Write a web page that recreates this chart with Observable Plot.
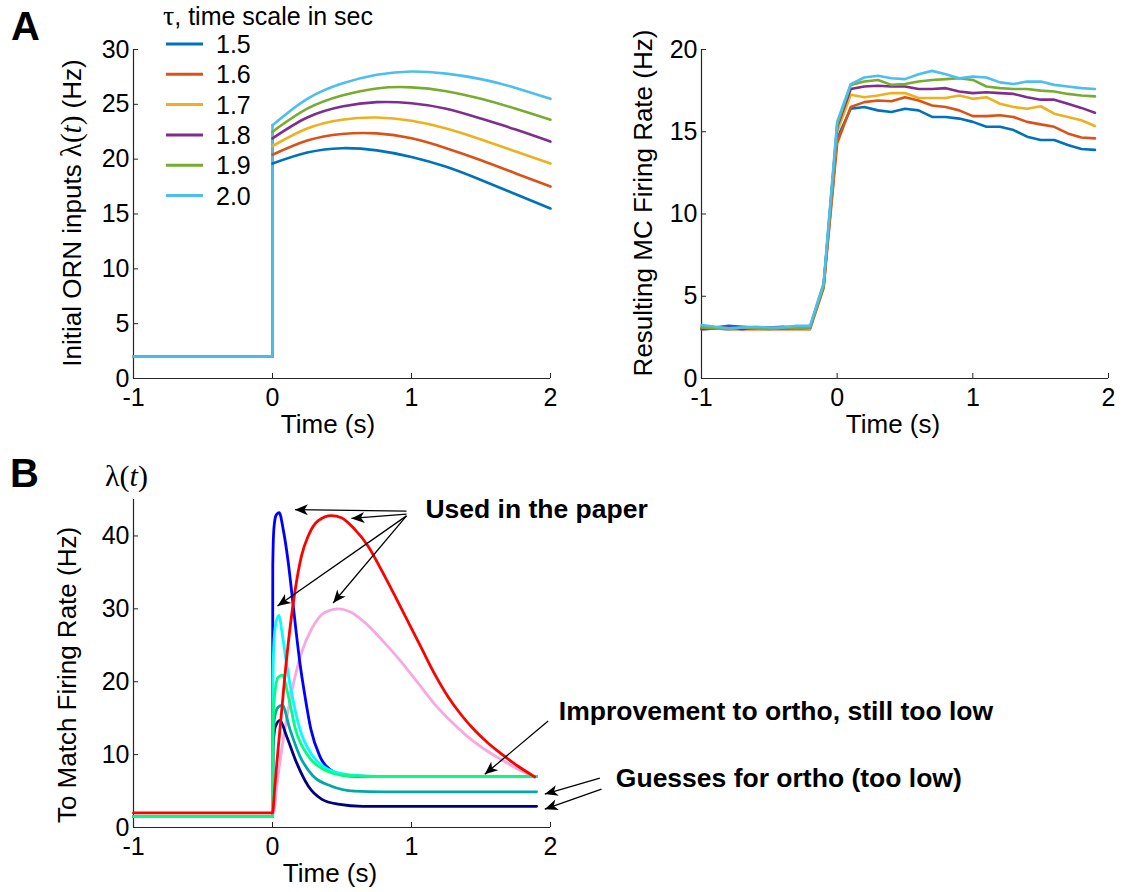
<!DOCTYPE html>
<html><head><meta charset="utf-8">
<script src="https://cdn.jsdelivr.net/npm/d3@7"></script>
<script src="https://cdn.jsdelivr.net/npm/@observablehq/plot@0.6"></script>
<style>
html,body{margin:0;padding:0;background:#fff;}
#fig{position:relative;width:1136px;height:892px;overflow:hidden;background:#fff;}
</style></head><body><div id="fig"></div>
<script>
// ---------------- DATA ----------------
// Panel A (left): initial ORN inputs for each time scale tau
const tauLabels = ["1.5", "1.6", "1.7", "1.8", "1.9", "2.0"];
const tauColors = ["#0072BD", "#D95319", "#EDB120", "#7E2F8E", "#77AC30", "#4DBEEE"];
const ornBaseline = 2;
const ornTimes = [0, 0.25, 0.5, 0.75, 1.0, 1.25, 1.5, 1.75, 2.0];
const orn_1_5 = [19.6, 20.6, 21.0, 20.8, 20.2, 19.3, 18.1, 16.8, 15.5];
const orn_1_6 = [20.4, 21.7, 22.3, 22.35, 21.9, 21.0, 19.9, 18.7, 17.5];
const orn_1_7 = [21.2, 22.8, 23.6, 23.8, 23.5, 22.8, 21.8, 20.7, 19.6];
const orn_1_8 = [21.9, 23.8, 24.8, 25.2, 25.1, 24.6, 23.7, 22.7, 21.6];
const orn_1_9 = [22.5, 24.6, 25.8, 26.45, 26.55, 26.2, 25.5, 24.6, 23.6];
const orn_2_0 = [23.1, 25.5, 26.9, 27.7, 28.0, 27.8, 27.3, 26.5, 25.5];

// Panel A (right): resulting MC firing rate
const mcTimes = [-1, -0.9, -0.8, -0.7, -0.6, -0.5, -0.4, -0.3, -0.2, -0.1, 0, 0.1, 0.2, 0.3, 0.4, 0.5, 0.6, 0.7, 0.8, 0.9, 1, 1.1, 1.2, 1.3, 1.4, 1.5, 1.6, 1.7, 1.8, 1.9];
const mc_1_5 = [3.1, 3.1, 3.2, 3.15, 3.1, 3.1, 3.1, 3.15, 3.1, 5.7, 14.6, 16.4, 16.5, 16.3, 16.2, 16.4, 16.3, 15.9, 15.9, 15.8, 15.6, 15.3, 15.3, 15.1, 14.7, 14.5, 14.5, 14.2, 13.95, 13.9];
const mc_1_6 = [3.0, 3.05, 3.0, 3.0, 3.0, 3.0, 3.0, 3.0, 3.0, 5.5, 14.3, 16.5, 16.8, 16.9, 16.85, 17.1, 16.9, 16.6, 16.5, 16.3, 15.95, 15.95, 16.0, 15.9, 15.6, 15.45, 15.3, 14.9, 14.65, 14.6];
const mc_1_7 = [3.05, 3.1, 3.05, 3.05, 3.1, 3.05, 3.1, 3.1, 3.05, 5.6, 15.0, 17.25, 17.1, 17.2, 17.35, 17.35, 17.05, 17.05, 17.05, 17.2, 17.0, 17.1, 16.7, 16.5, 16.4, 16.55, 16.1, 15.9, 15.7, 15.35];
const mc_1_8 = [3.0, 3.05, 3.1, 3.0, 3.1, 3.1, 3.15, 3.1, 3.1, 5.6, 15.3, 17.6, 17.75, 17.8, 17.75, 17.75, 17.6, 17.6, 17.65, 17.45, 17.35, 17.4, 17.35, 17.3, 17.1, 16.95, 16.95, 16.7, 16.45, 16.15];
const mc_1_9 = [3.1, 3.05, 3.0, 3.1, 3.05, 3.0, 3.1, 3.05, 3.1, 5.6, 15.4, 17.85, 18.05, 18.15, 17.85, 17.9, 18.05, 18.15, 18.2, 18.25, 18.15, 17.75, 17.65, 17.6, 17.6, 17.5, 17.45, 17.3, 17.2, 17.15];
const mc_2_0 = [3.25, 3.15, 3.05, 3.1, 3.15, 3.1, 3.1, 3.2, 3.2, 5.8, 15.6, 17.9, 18.3, 18.4, 18.25, 18.2, 18.5, 18.7, 18.5, 18.25, 18.35, 18.3, 18.0, 17.9, 18.05, 18.05, 17.85, 17.75, 17.65, 17.6];

// Panel B: lambda(t) needed to match firing rate (listed in drawing order)
const bNames  = ["paper slow 2", "ortho guess 1", "ortho guess 2", "paper fast 1", "paper fast 2", "ortho improved", "paper slow 1"];
const bColors = ["#F7A8E0", "#000080", "#00A8A8", "#0000FF", "#00FFFF", "#00FF80", "#FF0000"];
const bPinkT  = [-1, 0, 0.04, 0.089, 0.137, 0.209, 0.28, 0.376, 0.472, 0.568, 0.688, 0.808, 0.928, 1.048, 1.168, 1.288, 1.408, 1.528, 1.647, 1.767, 1.887];
const bPinkV  = [1.5, 1.5, 7.1, 13.5, 18.5, 24.0, 27.2, 29.5, 30.0, 29.5, 27.7, 25.3, 22.7, 19.8, 16.9, 14.5, 12.4, 10.7, 9.3, 8.0, 6.9];
const bNavyT  = [-1, 0, 0.004, 0.02, 0.053, 0.1, 0.173, 0.257, 0.353, 0.47, 0.65, 1.9];
const bNavyV  = [1.5, 1.5, 11, 13.8, 14.7, 12.6, 8.9, 5.7, 3.9, 3.2, 2.9, 2.9];
const bTealT  = [-1, 0, 0.004, 0.017, 0.04, 0.07, 0.125, 0.197, 0.29, 0.42, 0.59, 0.8, 1.9];
const bTealV  = [1.5, 1.5, 12.5, 15.3, 16.5, 16.8, 13.5, 9.8, 7.1, 5.7, 5.0, 4.9, 4.9];
const bBlueT  = [-1, 0, 0.002, 0.01, 0.025, 0.048, 0.077, 0.113, 0.141, 0.168, 0.197, 0.233, 0.276, 0.34, 0.41, 0.54, 0.7, 1.9];
const bBlueV  = [1.5, 1.5, 36, 41, 42.8, 43.2, 40.9, 36.4, 31.8, 27.2, 22.6, 18.1, 13.5, 9.8, 8.0, 7.1, 7.0, 7.0];
const bCyanT  = [-1, 0, 0.003, 0.012, 0.028, 0.048, 0.065, 0.1, 0.141, 0.197, 0.29, 0.40, 0.57, 0.75, 1.9];
const bCyanV  = [1.5, 1.5, 20, 26, 28.4, 29.1, 27.2, 22.6, 18.1, 13.5, 9.8, 8.0, 7.2, 7.0, 7.0];
const bGreenT = [-1, 0, 0.004, 0.017, 0.04, 0.07, 0.113, 0.165, 0.257, 0.365, 0.54, 0.75, 1.9];
const bGreenV = [1.5, 1.5, 15, 18.5, 20.6, 20.9, 18.1, 13.5, 9.8, 8.0, 7.1, 7.0, 7.0];
const bRedT   = [-1, 0, 0.017, 0.04, 0.065, 0.089, 0.125, 0.16, 0.209, 0.257, 0.329, 0.424, 0.496, 0.592, 0.688, 0.784, 0.88, 0.976, 1.072, 1.168, 1.264, 1.36, 1.456, 1.55, 1.647, 1.767, 1.887];
const bRedV   = [2, 2, 5.7, 10.7, 15.8, 20.8, 27.2, 32.2, 37.3, 40.0, 42.1, 42.8, 42.5, 40.9, 38.6, 35.3, 31.8, 28.2, 24.6, 21.0, 17.9, 15.4, 13.3, 11.6, 10.1, 8.4, 6.95];

// Panel B annotations (data coordinates)
const annoLabels = ["Used in the paper", "Improvement to ortho, still too low", "Guesses for ortho (too low)"];
const annoT = [1.10, 2.06, 2.47];
const annoV = [43.6, 15.97, 6.75];
const arrowFromT = [0.964, 0.964, 0.964, 0.964, 1.983, 2.355, 2.367];
const arrowFromV = [43.4, 43.0, 42.75, 42.75, 14.6, 6.78, 5.27];
const arrowToT   = [0.161, 0.568, 0.036, 0.436, 1.527, 1.959, 1.959];
const arrowToV   = [43.6, 42.4, 30.4, 30.8, 7.3, 4.58, 2.52];

// Tick values
const xTicks = [-1, 0, 1, 2];
const yTicksA1 = [0, 5, 10, 15, 20, 25, 30];
const yTicksA2 = [0, 5, 10, 15, 20];
const yTicksB = [0, 10, 20, 30, 40];

// ---------------- DRAW ----------------
const FONT = "'Liberation Sans', Arial, Helvetica, sans-serif";
const SERIF = "'Liberation Serif', 'Times New Roman', serif";
const AXIS = "#262626";
const fig = document.getElementById("fig");
const baseStyle = {fontFamily: FONT, fontSize: "25px", color: "black", background: "transparent", overflow: "visible"};

function place(svg, left, top) {
  svg.style.position = "absolute";
  svg.style.left = left + "px";
  svg.style.top = top + "px";
  fig.appendChild(svg);
}
function axes(yTicks) {
  return [
    Plot.ruleY([0], {stroke: AXIS, strokeWidth: 1.2}),
    Plot.ruleX([-1], {stroke: AXIS, strokeWidth: 1.2}),
    Plot.axisX({ticks: xTicks, tickSize: -5, tickPadding: 15, tickFormat: d => String(d), stroke: AXIS, label: null}),
    Plot.axisY({ticks: yTicks, tickSize: -5, tickPadding: 9, tickFormat: d => String(d), stroke: AXIS, label: null})
  ];
}

// Panel A left
const ornSeries = [orn_1_5, orn_1_6, orn_1_7, orn_1_8, orn_1_9, orn_2_0];
const ornStep = [], ornRows = [];
ornSeries.forEach((vals, i) => {
  const tau = tauLabels[i];
  ornStep.push({tau, t: -1, v: ornBaseline}, {tau, t: 0, v: ornBaseline}, {tau, t: 0, v: vals[0]});
  ornTimes.forEach((t, j) => ornRows.push({tau, t, v: vals[j]}));
});
const plotA1 = Plot.plot({
  width: 600, height: 440, marginLeft: 133, marginRight: 50, marginTop: 49, marginBottom: 62,
  x: {domain: [-1, 2]}, y: {domain: [0, 30]},
  color: {type: "ordinal", domain: tauLabels, range: tauColors},
  style: baseStyle,
  marks: [
    ...axes(yTicksA1),
    Plot.line(ornStep, {x: "t", y: "v", z: "tau", stroke: "tau", strokeWidth: 2.6}),
    Plot.line(ornRows, {x: "t", y: "v", z: "tau", stroke: "tau", strokeWidth: 2.6, curve: "natural"})
  ]
});
place(plotA1, 0, 0);

// Panel A right
const mcSeries = [mc_1_5, mc_1_6, mc_1_7, mc_1_8, mc_1_9, mc_2_0];
const mcRows = [];
mcSeries.forEach((vals, i) => mcTimes.forEach((t, j) => mcRows.push({tau: tauLabels[i], t, v: vals[j]})));
const plotA2 = Plot.plot({
  width: 576, height: 440, marginLeft: 141, marginRight: 28, marginTop: 49, marginBottom: 62,
  x: {domain: [-1, 2]}, y: {domain: [0, 20]},
  color: {type: "ordinal", domain: tauLabels, range: tauColors},
  style: baseStyle,
  marks: [
    ...axes(yTicksA2),
    Plot.line(mcRows, {x: "t", y: "v", z: "tau", stroke: "tau", strokeWidth: 2.6})
  ]
});
place(plotA2, 560, 0);

// Panel B
const bT = [bPinkT, bNavyT, bTealT, bBlueT, bCyanT, bGreenT, bRedT];
const bV = [bPinkV, bNavyV, bTealV, bBlueV, bCyanV, bGreenV, bRedV];
const bRows = [];
bNames.forEach((name, i) => bT[i].forEach((t, j) => bRows.push({name, t, v: bV[i][j]})));
const bOpts = {
  width: 1136, height: 442, marginLeft: 133, marginRight: 586, marginTop: 49, marginBottom: 65,
  x: {domain: [-1, 2]}, y: {domain: [0, 45]},
  color: {type: "ordinal", domain: bNames, range: bColors},
  style: baseStyle
};
const probe = Plot.plot({...bOpts, marks: [Plot.ruleY([0])]});
const sx = probe.scale("x"), sy = probe.scale("y");
const arrows = arrowFromT.map((x1, i) => {
  const x2 = arrowToT[i], y1 = arrowFromV[i], y2 = arrowToV[i];
  const dx = sx.apply(x2) - sx.apply(x1), dy = sy.apply(y2) - sy.apply(y1);
  return {x1, y1, x2, y2, angle: Math.atan2(dx, -dy) * 180 / Math.PI};
});
const arrowHead = {draw(ctx) { ctx.moveTo(0, 0); ctx.lineTo(-5.5, 13); ctx.lineTo(0, 9.5); ctx.lineTo(5.5, 13); ctx.closePath(); }};
const annos = annoLabels.map((label, i) => ({label, t: annoT[i], v: annoV[i]}));
const plotB = Plot.plot({
  ...bOpts,
  marks: [
    ...axes(yTicksB),
    Plot.line(bRows, {x: "t", y: "v", z: "name", stroke: {value: "name", scale: "color"}, strokeWidth: 2.8, curve: "monotone-x"}),
    Plot.link(arrows, {x1: "x1", y1: "y1", x2: "x2", y2: "y2", stroke: "black", strokeWidth: 1.3}),
    Plot.dot(arrows, {x: "x2", y: "y2", symbol: arrowHead, rotate: "angle", fill: "black", stroke: "none"}),
    Plot.text(annos, {x: "t", y: "v", text: "label", textAnchor: "start", lineAnchor: "middle", fontWeight: "bold", fontSize: 26.5, fill: "black"})
  ]
});
place(plotB, 0, 450);

// ---------------- OVERLAY TEXT ----------------
const ov = d3.select(fig).append("svg")
  .attr("width", 1136).attr("height", 892)
  .style("position", "absolute").style("left", "0px").style("top", "0px")
  .style("pointer-events", "none")
  .attr("font-family", FONT).attr("fill", "black");

ov.append("text").attr("x", 11).attr("y", 40).attr("font-size", 40).attr("font-weight", "bold").text("A");
ov.append("text").attr("x", 10).attr("y", 487).attr("font-size", 40).attr("font-weight", "bold").text("B");

// legend
const lt = ov.append("text").attr("x", 163).attr("y", 25).attr("font-size", 25);
lt.append("tspan").attr("font-family", SERIF).attr("font-size", 28).text("τ");
lt.append("tspan").text(", time scale in sec");
tauLabels.forEach((lab, i) => {
  const y = 44 + i * 30.3;
  ov.append("line").attr("x1", 166).attr("x2", 203).attr("y1", y).attr("y2", y)
    .attr("stroke", tauColors[i]).attr("stroke-width", 3);
  ov.append("text").attr("x", 216).attr("y", y).attr("dy", "0.36em").attr("font-size", 25).text(lab);
});

// x labels
[[328, 433], [893, 433], [330, 882]].forEach(([x, y]) =>
  ov.append("text").attr("x", x).attr("y", y).attr("text-anchor", "middle").attr("font-size", 26).text("Time (s)"));

// y labels
function yLabel(x, y, build) {
  const t = ov.append("text").attr("transform", `translate(${x},${y}) rotate(-90)`)
    .attr("text-anchor", "middle").attr("font-size", 26);
  build(t);
}
yLabel(81, 213, t => {
  t.append("tspan").text("Initial ORN inputs ");
  t.append("tspan").attr("font-family", SERIF).attr("font-size", 29).text("λ(");
  t.append("tspan").attr("font-family", SERIF).attr("font-size", 29).attr("font-style", "italic").text("t");
  t.append("tspan").attr("font-family", SERIF).attr("font-size", 29).text(")");
  t.append("tspan").text(" (Hz)");
});
yLabel(652, 203, t => t.text("Resulting MC Firing Rate (Hz)"));
yLabel(76, 675, t => t.text("To Match Firing Rate (Hz)"));

// lambda(t) above panel B axis
const lam = ov.append("text").attr("x", 105).attr("y", 486).attr("font-family", SERIF).attr("font-size", 30);
lam.append("tspan").text("λ(");
lam.append("tspan").attr("font-style", "italic").text("t");
lam.append("tspan").text(")");
</script>
</body></html>
